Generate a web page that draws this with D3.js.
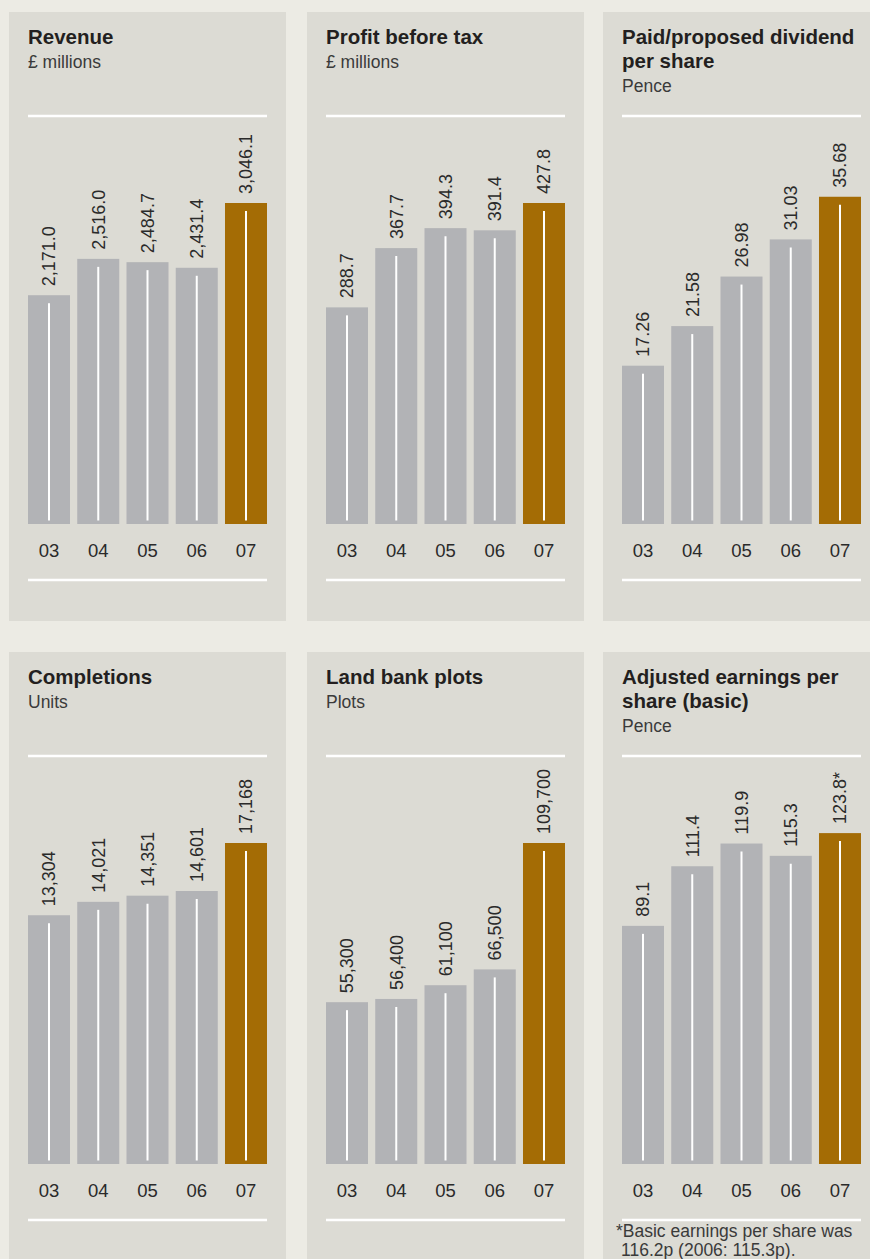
<!DOCTYPE html>
<meta charset="utf-8">
<title>Key figures</title>
<style>
  body { margin: 0; background: #ecebe4; }
  svg { display: block; font-family: "Liberation Sans", Arial, Helvetica, sans-serif; }
  .panel-bg { fill: #dcdbd4; }
  .title { font-size: 20.5px; font-weight: bold; fill: #231f20; }
  .unit { font-size: 17.5px; fill: #3a3a3a; }
  .rule { stroke: #fff; stroke-width: 2.5px; }
  .value { font-size: 18px; fill: #2a2a2a; }
  .tick text { font-size: 18.5px; fill: #2a2a2a; }
  .note { font-size: 17.5px; fill: #3a3a3a; }
</style>
<body>
<script src="https://d3js.org/d3.v7.min.js"></script>
<script>
// five financial years, one chart per key figure
var years = ["03", "04", "05", "06", "07"];

var revenue = [2171.0, 2516.0, 2484.7, 2431.4, 3046.1];
var profitBeforeTax = [288.7, 367.7, 394.3, 391.4, 427.8];
var dividendPerShare = [17.26, 21.58, 26.98, 31.03, 35.68];
var completions = [13304, 14021, 14351, 14601, 17168];
var landBankPlots = [55300, 56400, 61100, 66500, 109700];
var adjustedEps = [89.1, 111.4, 119.9, 115.3, 123.8];

var titles = [["Revenue"], ["Profit before tax"], ["Paid/proposed dividend", "per share"],
              ["Completions"], ["Land bank plots"], ["Adjusted earnings per", "share (basic)"]];
var units = ["£ millions", "£ millions", "Pence", "Units", "Plots", "Pence"];
var valueFormats = [",.1f", ".1f", ".2f", ",", ",", ".1f"];
// value that reaches the full bar height in each chart (as printed)
var scaleMax = [3046.1, 427.8, 35.0, 17168, 109700, 120.1];
var epsMark = "*";
var footnote = ["*Basic earnings per share was", "116.2p (2006: 115.3p)."];

var series = [revenue, profitBeforeTax, dividendPerShare, completions, landBankPlots, adjustedEps];

var W = 870, H = 1259;
var colX = [9, 307, 603], rowY = [12, 652];
var panelW = 277, panelH = 609;
var padL = 19, plotW = 239;
var barBase = 512, barH = 321;   // relative to panel top

var svg = d3.select("body").append("svg")
    .attr("width", W).attr("height", H);

svg.append("rect").attr("width", W).attr("height", H).attr("fill", "#ecebe4");

series.forEach(function(vals, i) {
  var g = svg.append("g")
      .attr("transform", "translate(" + colX[i % 3] + "," + rowY[Math.floor(i / 3)] + ")");

  g.append("rect").attr("class", "panel-bg")
      .attr("width", panelW).attr("height", panelH);

  var t = titles[i];
  t.forEach(function(line, k) {
    g.append("text").attr("class", "title")
        .attr("x", padL).attr("y", 32 + k * 24).text(line);
  });
  g.append("text").attr("class", "unit")
      .attr("x", padL).attr("y", 56 + (t.length - 1) * 24).text(units[i]);

  var plot = g.append("g").attr("transform", "translate(" + padL + ",0)");

  plot.append("line").attr("class", "rule")
      .attr("x1", 0).attr("x2", plotW).attr("y1", 104).attr("y2", 104);
  plot.append("line").attr("class", "rule")
      .attr("x1", 0).attr("x2", plotW).attr("y1", 568).attr("y2", 568);

  var x = d3.scaleBand().domain(years).range([0, plotW])
      .paddingInner(0.147).paddingOuter(0);
  var y = d3.scaleLinear().domain([0, scaleMax[i]]).range([barBase, barBase - barH]);
  var fmt = d3.format(valueFormats[i]);

  var data = years.map(function(yr, j) { return { year: yr, value: vals[j], last: j === years.length - 1 }; });

  var bars = plot.selectAll(".bar").data(data).enter().append("g").attr("class", "bar");

  bars.append("rect")
      .attr("x", function(d) { return x(d.year); })
      .attr("y", function(d) { return y(d.value); })
      .attr("width", x.bandwidth())
      .attr("height", function(d) { return y(0) - y(d.value); })
      .attr("fill", function(d) { return d.last ? "#a46c05" : "#b2b3b6"; });

  bars.append("line")
      .attr("x1", function(d) { return x(d.year) + x.bandwidth() / 2; })
      .attr("x2", function(d) { return x(d.year) + x.bandwidth() / 2; })
      .attr("y1", function(d) { return y(d.value) + 8; })
      .attr("y2", y(0) - 3.5)
      .attr("stroke", "#fff").attr("stroke-width", 2);

  bars.append("text").attr("class", "value")
      .attr("transform", function(d) {
        return "translate(" + (x(d.year) + x.bandwidth() / 2) + "," + (y(d.value) - 9) + ") rotate(-90)";
      })
      .attr("dy", "0.36em")
      .text(function(d) { return fmt(d.value) + (i === 5 && d.last ? epsMark : ""); });

  var axis = plot.append("g")
      .attr("transform", "translate(0," + barBase + ")")
      .call(d3.axisBottom(x).tickSize(0).tickPadding(20));
  axis.select(".domain").remove();
  axis.selectAll("text").attr("font-family", null).attr("font-size", null);

  if (i === 5) {
    g.append("text").attr("class", "note").attr("x", 13).attr("y", 585).text(footnote[0]);
    g.append("text").attr("class", "note").attr("x", 18).attr("y", 604).text(footnote[1]);
  }
});
</script>
</body>
